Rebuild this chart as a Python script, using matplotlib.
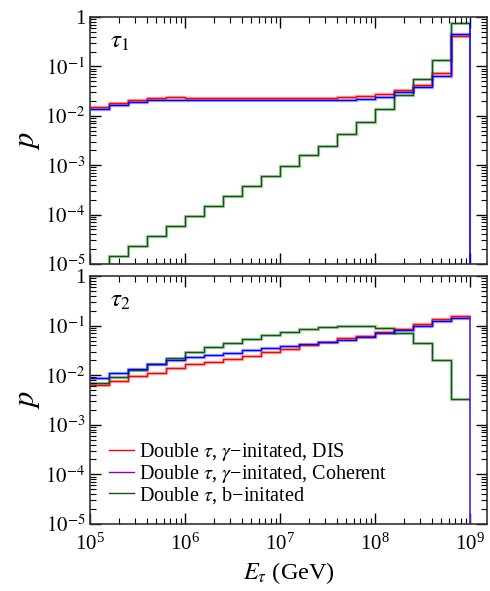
import numpy as np
import matplotlib
matplotlib.use('Agg')
import matplotlib.pyplot as plt
from matplotlib.ticker import LogLocator, FuncFormatter, NullFormatter

plt.rcParams['font.family'] = ['Liberation Serif', 'DejaVu Serif']
plt.rcParams['mathtext.fontset'] = 'stix'

# bin edges in log10(E/GeV), 0.2 wide
log_edges = np.linspace(5, 9, 21)

# tau_1 panel
t1_dis = [0.0153, 0.0180, 0.0212, 0.0226, 0.0235, 0.0230, 0.0228, 0.0227, 0.0226, 0.0226,
          0.0226, 0.0226, 0.0233, 0.0244, 0.0255, 0.0276, 0.0326, 0.0430, 0.0725, 0.41]
t1_coh = [0.0137, 0.0166, 0.0193, 0.0206, 0.0212, 0.0210, 0.0208, 0.0207, 0.0206, 0.0206,
          0.0206, 0.0206, 0.0206, 0.0213, 0.0222, 0.0246, 0.0297, 0.0392, 0.0650, 0.46]
t1_b = [9.0e-6, 1.47e-5, 2.35e-5, 3.7e-5, 6.0e-5, 9.4e-5, 1.48e-4, 2.4e-4, 3.8e-4, 6.0e-4,
        9.8e-4, 1.58e-3, 2.5e-3, 4.2e-3, 7.4e-3, 0.0135, 0.0263, 0.055, 0.137, 0.745]

# tau_2 panel
t2_dis = [0.0062, 0.0078, 0.0095, 0.0112, 0.0140, 0.0166, 0.0188, 0.0215, 0.0247, 0.0300,
          0.0345, 0.0407, 0.0466, 0.0550, 0.0630, 0.0750, 0.0867, 0.109, 0.134, 0.156]
t2_coh = [0.0089, 0.0111, 0.0135, 0.0170, 0.0205, 0.0230, 0.0251, 0.0280, 0.0317, 0.0348,
          0.0380, 0.0426, 0.0466, 0.0520, 0.0600, 0.0700, 0.0815, 0.0995, 0.124, 0.140]
t2_b = [0.0069, 0.0093, 0.0129, 0.0170, 0.0225, 0.0288, 0.0364, 0.0455, 0.0540, 0.0640,
        0.0750, 0.0853, 0.0920, 0.0980, 0.0980, 0.0880, 0.0710, 0.0453, 0.0200, 0.0033]

labels = [r'Double $\tau$, $\gamma$−initated, DIS',
          r'Double $\tau$, $\gamma$−initated, Coherent',
          r'Double $\tau$, b−initated']
panel_names = [r'$\tau_1$', r'$\tau_2$']

edges = 10 ** log_edges
green = '#0b5a0b'
purple = '#8a00c8'


def ytick_fmt(v, pos):
    e = int(round(np.log10(v)))
    if e == 0:
        return '1'
    return r'$10^{%d}$' % e


def draw(ax, dis, coh, b, drop_color):
    # faint halo under each line, then the line itself
    for vals, c in [(dis, 'red'), (coh, 'blue'), (b, green)]:
        ax.stairs(vals, edges, baseline=None, color=c, lw=2.4, alpha=0.3)
    ax.stairs(dis, edges, baseline=None, color='red', lw=1.0)
    ax.stairs(b, edges, baseline=None, color=green, lw=1.0)
    ax.stairs(coh, edges, baseline=None, color='blue', lw=1.0)
    # histograms close down to zero at the upper edge
    ax.vlines(edges[-1], 1e-9, max(dis[-1], coh[-1], b[-1]), color=drop_color, lw=1.2)


fig = plt.figure(figsize=(4.9, 5.91), dpi=100)
ax1 = fig.add_axes([0.1837, 0.5533, 0.8102, 0.4179])
ax2 = fig.add_axes([0.1837, 0.1134, 0.8102, 0.4196])

draw(ax1, t1_dis, t1_coh, t1_b, 'blue')
draw(ax2, t2_dis, t2_coh, t2_b, '#5a1ee0')

for ax, name in zip([ax1, ax2], panel_names):
    ax.set_xscale('log')
    ax.set_yscale('log')
    ax.set_xlim(1e5, 10 ** 9.18)
    ax.set_ylim(1e-5, 1)
    ax.xaxis.set_major_locator(LogLocator(base=10, numticks=10))
    ax.xaxis.set_minor_locator(LogLocator(base=10, subs=np.arange(2, 10), numticks=20))
    ax.yaxis.set_major_locator(LogLocator(base=10, numticks=10))
    ax.yaxis.set_minor_locator(LogLocator(base=10, subs=np.arange(2, 10), numticks=20))
    ax.yaxis.set_major_formatter(FuncFormatter(ytick_fmt))
    ax.tick_params(which='both', direction='in', top=True, right=True, labelsize=15)
    ax.tick_params(which='major', length=8, width=1.0)
    ax.tick_params(which='minor', length=4, width=0.8)
    ax.tick_params(axis='x', which='major', pad=7)
    for s in ax.spines.values():
        s.set_linewidth(1.2)
        s.set_color('#333333')
    ax.set_ylabel('$p$', fontsize=22, labelpad=2)
    ax.text(0.05, 0.9, name, transform=ax.transAxes, fontsize=18, va='center')

ax1.xaxis.set_major_formatter(NullFormatter())
ax2.set_xlabel(r'$E_\tau$ (GeV)', fontsize=17.5)

h = [plt.Line2D([], [], color='red', lw=1.0),
     plt.Line2D([], [], color=purple, lw=1.0),
     plt.Line2D([], [], color=green, lw=1.0)]
ax2.legend(h, labels, loc='lower left', bbox_to_anchor=(0.018, 0.025), frameon=False,
           fontsize=14.5, handlelength=1.25, handletextpad=0.25, labelspacing=0.0,
           borderaxespad=0.2)

fig.savefig('out.png', dpi=100)
